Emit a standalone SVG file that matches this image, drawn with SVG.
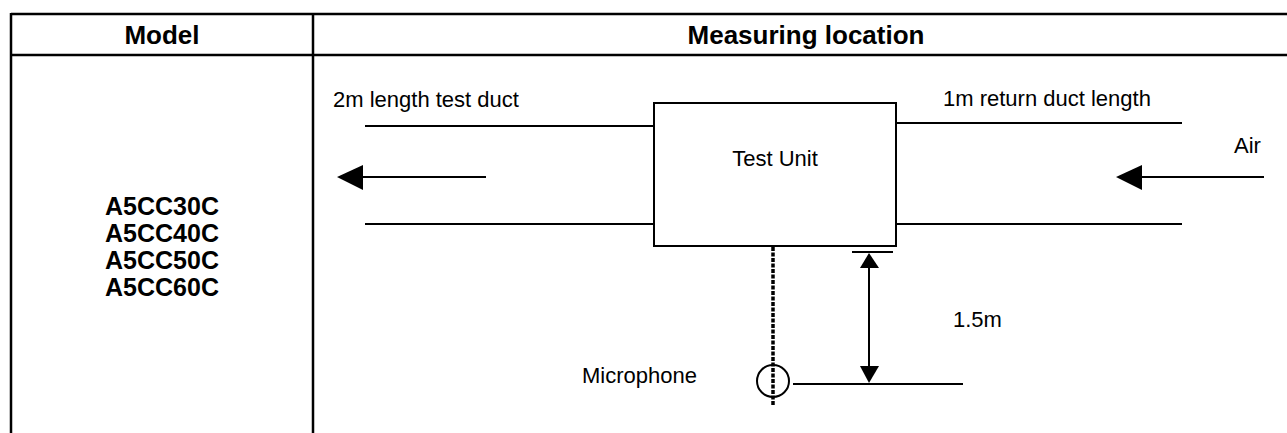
<svg xmlns="http://www.w3.org/2000/svg" width="1287" height="433" viewBox="0 0 1287 433">
<defs>
<style>
.tbl{stroke:#000;stroke-width:2.5;fill:none}
.ln{stroke:#000;stroke-width:2;fill:none}
.hd{font-family:"Liberation Sans",Arial,sans-serif;font-weight:bold;font-size:26px;fill:#000;text-anchor:middle}
.md{font-family:"Liberation Sans",Arial,sans-serif;font-weight:bold;font-size:25px;fill:#000;text-anchor:middle}
.tx{font-family:"Liberation Sans",Arial,sans-serif;font-size:22px;fill:#000}
</style>
</defs>
<rect width="1287" height="433" fill="#fff"/>
<g id="table">
<line class="tbl" x1="11" y1="14" x2="1287" y2="14"/>
<line class="tbl" x1="11" y1="55" x2="1287" y2="55"/>
<line class="tbl" x1="11" y1="13" x2="11" y2="433"/>
<line class="tbl" x1="313" y1="13" x2="313" y2="433"/>
<text class="hd" x="162" y="44">Model</text>
<text class="hd" x="806" y="44">Measuring location</text>
</g>
<g id="models">
<text class="md" x="162" y="215">A5CC30C</text>
<text class="md" x="162" y="242">A5CC40C</text>
<text class="md" x="162" y="269">A5CC50C</text>
<text class="md" x="162" y="296">A5CC60C</text>
</g>
<g id="test-unit">
<rect class="ln" x="654" y="103" width="242" height="143"/>
<text class="tx" x="775" y="166" text-anchor="middle">Test Unit</text>
</g>
<g id="ducts">
<line class="ln" x1="365" y1="126" x2="654" y2="126"/>
<line class="ln" x1="365" y1="224" x2="654" y2="224"/>
<line class="ln" x1="896" y1="123" x2="1182" y2="123"/>
<line class="ln" x1="896" y1="224" x2="1182" y2="224"/>
<text class="tx" x="333" y="107">2m length test duct</text>
<text class="tx" x="943" y="106">1m return duct length</text>
</g>
<g id="microphone">
<circle class="ln" cx="773" cy="381" r="16"/>
<text class="tx" x="582" y="383">Microphone</text>
</g>
<g id="connectors">
<line stroke="#000" stroke-width="2" x1="486" y1="177" x2="363" y2="177"/>
<path d="M337,177 L363,165 L363,190 Z" fill="#000"/>
<line stroke="#000" stroke-width="2" x1="1264" y1="177" x2="1142" y2="177"/>
<path d="M1116,177 L1142,165 L1142,190 Z" fill="#000"/>
<text class="tx" x="1234" y="153">Air</text>
<line stroke="#000" stroke-width="3.5" stroke-dasharray="4 1.5" x1="773" y1="247" x2="773" y2="406"/>
<line class="ln" x1="793" y1="384" x2="963" y2="384"/>
<line class="ln" x1="852" y1="252" x2="893" y2="252"/>
<line stroke="#000" stroke-width="2" x1="869" y1="266" x2="869" y2="368"/>
<path d="M869,253 L860,268 L879,268 Z" fill="#000"/>
<path d="M869,383 L860,366 L879,366 Z" fill="#000"/>
<text class="tx" x="953" y="327">1.5m</text>
</g>
</svg>
